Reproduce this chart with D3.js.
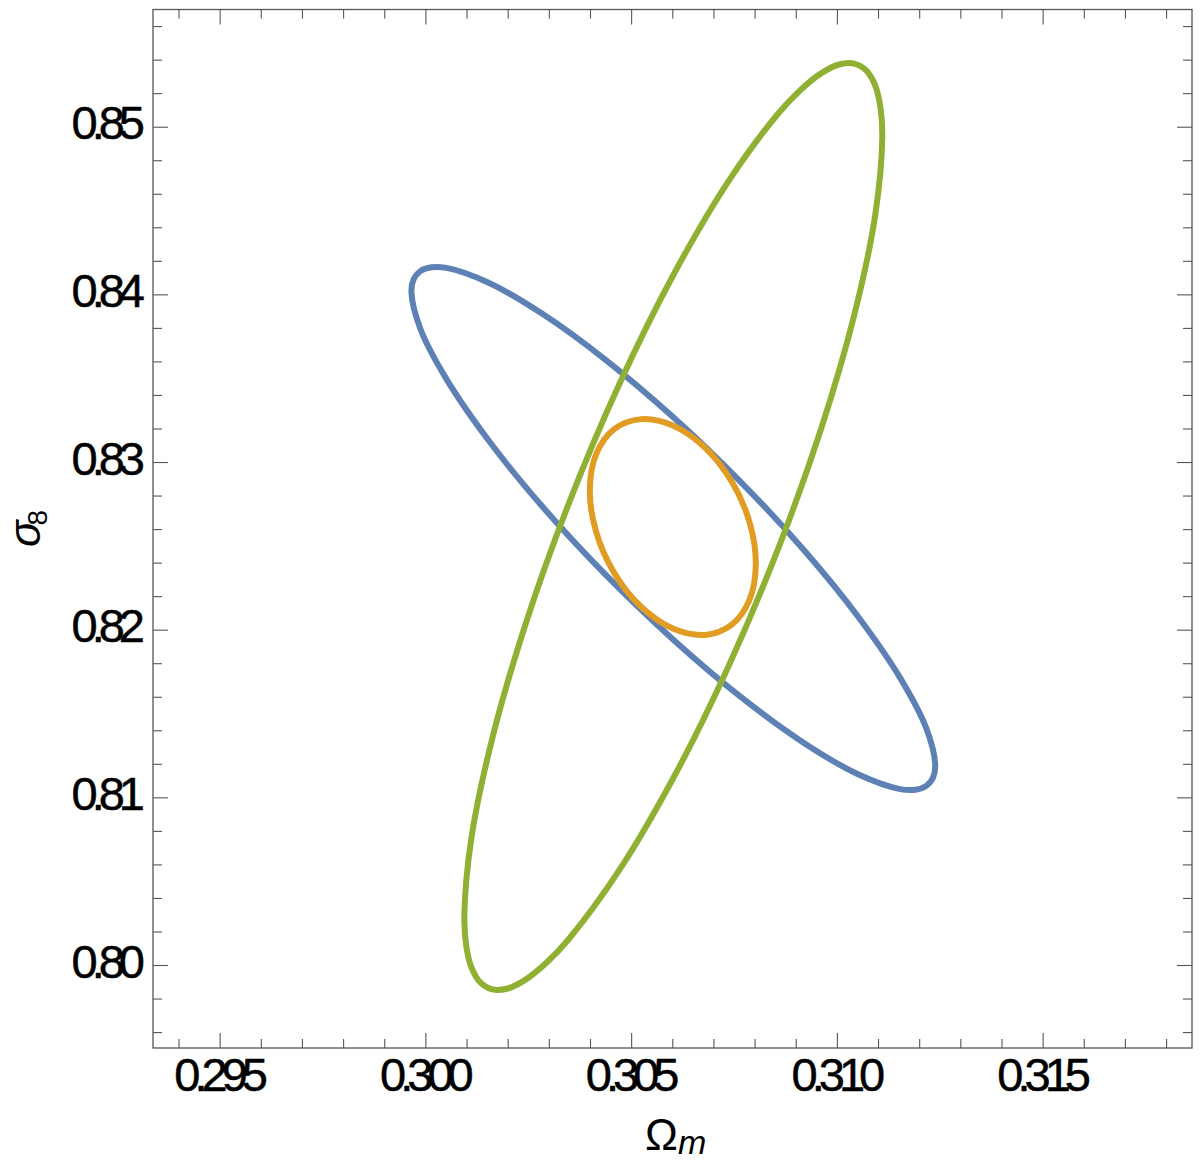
<!DOCTYPE html>
<html>
<head>
<meta charset="utf-8">
<script src="https://cdn.jsdelivr.net/npm/d3@7"></script>
<style>
  html, body { margin: 0; padding: 0; background: #fff; }
  svg { display: block; }
  .lbl { font-family: "Liberation Sans", Arial, sans-serif; font-size: 47px; letter-spacing: -6px; fill: #000; stroke: #000; stroke-width: 0.5px; }
</style>
</head>
<body>
<svg id="chart" width="1200" height="1164"></svg>
<script>
// ---- Data ----
// Contour points [Omega_m, sigma_8]
const blueContour = [
  [0.312390, 0.811920], [0.312336, 0.811174], [0.312173, 0.810684], [0.311906, 0.810455],
  [0.311537, 0.810493], [0.310526, 0.811362], [0.309208, 0.813231], [0.307672, 0.815973],
  [0.306025, 0.819400], [0.304378, 0.823279], [0.302842, 0.827347], [0.301524, 0.831324],
  [0.300513, 0.834942], [0.299877, 0.837952], [0.299660, 0.840150], [0.299714, 0.840896],
  [0.299877, 0.841386], [0.300144, 0.841615], [0.300513, 0.841577], [0.301524, 0.840708],
  [0.302842, 0.838839], [0.304378, 0.836097], [0.306025, 0.832670], [0.307672, 0.828791],
  [0.309208, 0.824723], [0.310526, 0.820746], [0.311537, 0.817128], [0.312173, 0.814118]
];
const orangeContour = [
  [0.308030, 0.823934], [0.307876, 0.821782], [0.307439, 0.820291], [0.306785, 0.819689],
  [0.306013, 0.820066], [0.305241, 0.821365], [0.304587, 0.823389], [0.304150, 0.825829],
  [0.303996, 0.828314], [0.304150, 0.830466], [0.304587, 0.831957], [0.305241, 0.832559],
  [0.306013, 0.832182], [0.306785, 0.830883], [0.307439, 0.828859], [0.307876, 0.826419]
];
const greenContour = [
  [0.311103, 0.849376], [0.310930, 0.844702], [0.310422, 0.838765], [0.309615, 0.831967],
  [0.308564, 0.824774], [0.307339, 0.817675], [0.306025, 0.811153], [0.304711, 0.805655],
  [0.303486, 0.801552], [0.302934, 0.800116], [0.302435, 0.799127], [0.301997, 0.798599],
  [0.301628, 0.798543], [0.301334, 0.798960], [0.301120, 0.799841], [0.300991, 0.801173],
  [0.300947, 0.802932], [0.301120, 0.807606], [0.301628, 0.813543], [0.302435, 0.820341],
  [0.303486, 0.827534], [0.304711, 0.834633], [0.306025, 0.841155], [0.307339, 0.846653],
  [0.308564, 0.850756], [0.309116, 0.852192], [0.309615, 0.853181], [0.310053, 0.853709],
  [0.310422, 0.853765], [0.310716, 0.853348], [0.310930, 0.852467], [0.311059, 0.851135]
];
const xMajorTicks = [0.295, 0.300, 0.305, 0.310, 0.315];
const xTickLabels = ["0.295", "0.300", "0.305", "0.310", "0.315"];
const yMajorTicks = [0.80, 0.81, 0.82, 0.83, 0.84, 0.85];
const yTickLabels = ["0.80", "0.81", "0.82", "0.83", "0.84", "0.85"];
const xMinorTicks = [0.294,0.296,0.297,0.298,0.299,0.301,0.302,0.303,0.304,0.306,0.307,0.308,0.309,0.311,0.312,0.313,0.314,0.316,0.317,0.318];
const yMinorTicks = [0.796,0.798,0.802,0.804,0.806,0.808,0.812,0.814,0.816,0.818,0.822,0.824,0.826,0.828,0.832,0.834,0.836,0.838,0.842,0.844,0.846,0.848,0.852,0.854,0.856];
const xDomain = [0.29338, 0.31863];
const yDomain = [0.79505, 0.85699];

// ---- Layout ----
const L = 153, R = 1192, T = 9.5, B = 1048;
const svg = d3.select("#chart");
const x = d3.scaleLinear().domain(xDomain).range([L, R]);
const y = d3.scaleLinear().domain(yDomain).range([B, T]);

const tickColor = "#555";
function styleAxis(g) {
  g.select(".domain").remove();
  g.selectAll(".tick line").attr("stroke", tickColor).attr("stroke-width", 1.1);
}
// minor ticks
svg.append("g").attr("transform", `translate(0,${B})`)
  .call(d3.axisBottom(x).tickValues(xMinorTicks).tickSize(-9).tickFormat("")).call(styleAxis);
svg.append("g").attr("transform", `translate(0,${T})`)
  .call(d3.axisTop(x).tickValues(xMinorTicks).tickSize(-9).tickFormat("")).call(styleAxis);
svg.append("g").attr("transform", `translate(${L},0)`)
  .call(d3.axisLeft(y).tickValues(yMinorTicks).tickSize(-9).tickFormat("")).call(styleAxis);
svg.append("g").attr("transform", `translate(${R},0)`)
  .call(d3.axisRight(y).tickValues(yMinorTicks).tickSize(-9).tickFormat("")).call(styleAxis);
// major ticks
const gxB = svg.append("g").attr("transform", `translate(0,${B})`)
  .call(d3.axisBottom(x).tickValues(xMajorTicks).tickSize(-15).tickPadding(0)
    .tickFormat((d, i) => xTickLabels[i])).call(styleAxis);
gxB.selectAll(".tick text").attr("class", "lbl").attr("y", 43).attr("dy", 0)
  .attr("dx", -2).attr("font-size", null).attr("font-family", null);
svg.append("g").attr("transform", `translate(0,${T})`)
  .call(d3.axisTop(x).tickValues(xMajorTicks).tickSize(-15).tickFormat("")).call(styleAxis);
const gyL = svg.append("g").attr("transform", `translate(${L},0)`)
  .call(d3.axisLeft(y).tickValues(yMajorTicks).tickSize(-15).tickPadding(0)
    .tickFormat((d, i) => yTickLabels[i])).call(styleAxis);
gyL.selectAll(".tick text").attr("class", "lbl").attr("x", -14).attr("dy", 12)
  .attr("font-size", null).attr("font-family", null);
svg.append("g").attr("transform", `translate(${R},0)`)
  .call(d3.axisRight(y).tickValues(yMajorTicks).tickSize(-15).tickFormat("")).call(styleAxis);
svg.selectAll("g").attr("font-size", null).attr("font-family", null);

// frame
svg.append("rect").attr("x", L).attr("y", T).attr("width", R - L).attr("height", B - T)
  .attr("fill", "none").attr("stroke", tickColor).attr("stroke-width", 1.3);

// contours
const line = d3.line().x(d => x(d[0])).y(d => y(d[1])).curve(d3.curveCatmullRomClosed.alpha(0.5));
const series = [
  { data: blueContour, color: "#5E81B5" },
  { data: orangeContour, color: "#E19C24" },
  { data: greenContour, color: "#8FB032" }
];
svg.append("g").selectAll("path").data(series).join("path")
  .attr("d", d => line(d.data))
  .attr("fill", "none").attr("stroke", d => d.color).attr("stroke-width", 6)
  .attr("stroke-linejoin", "round");

// axis titles
const xt = svg.append("text").attr("x", 645).attr("y", 1150)
  .attr("font-family", "Liberation Sans, Arial, sans-serif")
  .attr("font-size", 44).attr("fill", "#000");
xt.append("tspan").text("Ω");
xt.append("tspan").attr("font-style", "italic").attr("font-size", 34).attr("dx", 0).attr("dy", 4).text("m");

const yt = svg.append("text").attr("transform", "translate(40,547) rotate(-90)")
  .attr("font-family", "Liberation Sans, Arial, sans-serif")
  .attr("font-size", 44).attr("fill", "#000");
yt.append("tspan").attr("font-style", "italic").text("σ");
yt.append("tspan").attr("font-size", 28).attr("dx", -5).attr("dy", 7).text("8");
</script>
</body>
</html>
